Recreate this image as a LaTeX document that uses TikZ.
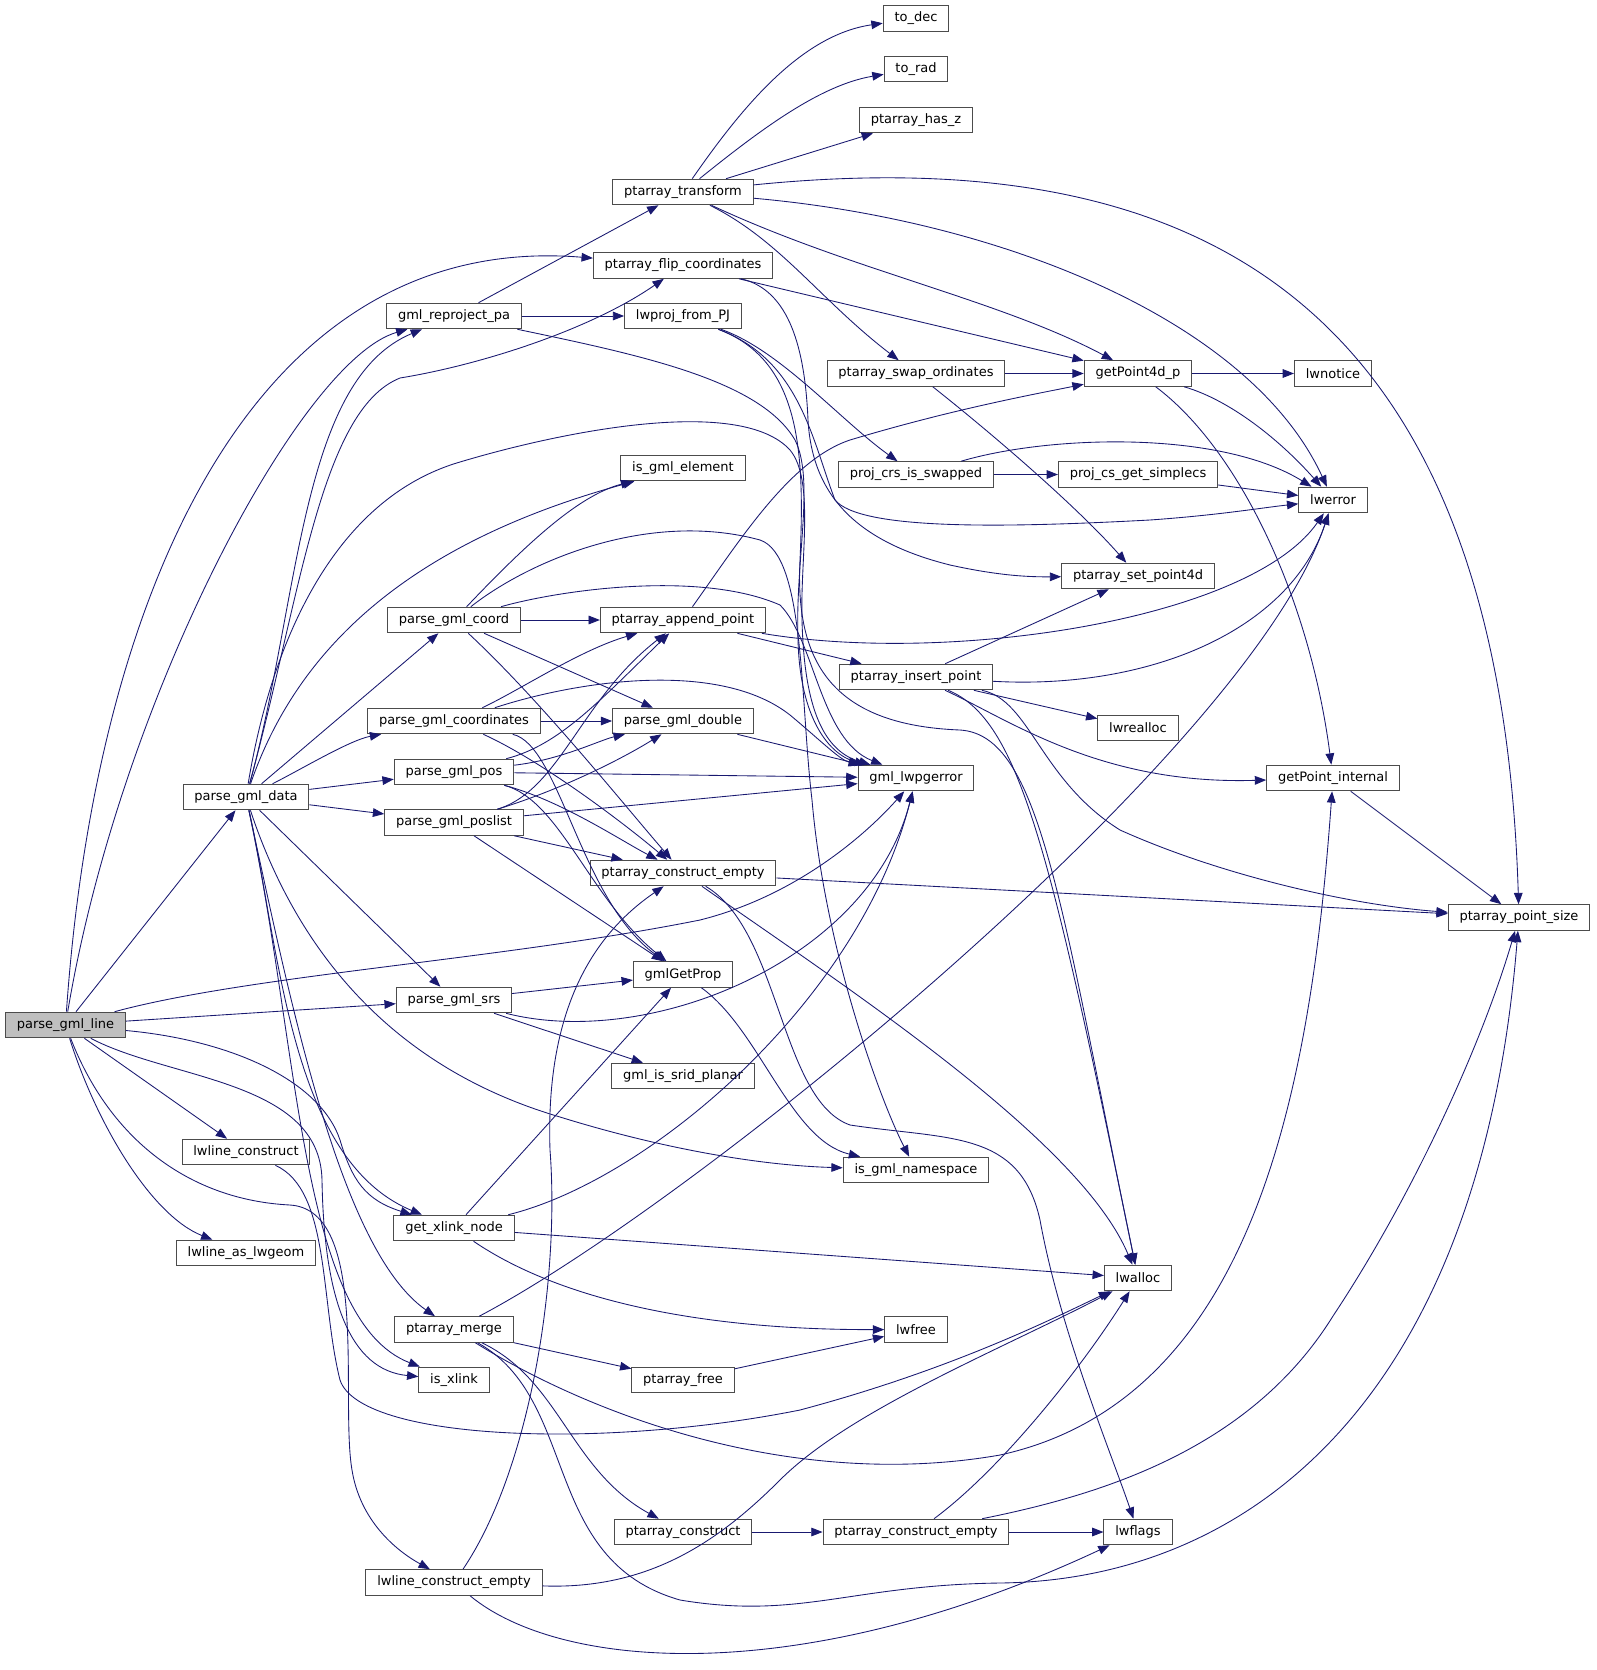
\documentclass[tikz,border=0pt]{standalone}
\usepackage{fontspec}
\setmainfont{DejaVu Sans}
\usetikzlibrary{arrows.meta}
\definecolor{callblue}{HTML}{191970}
\tikzset{
  fn/.style={draw=black!70, line width=0.75pt, fill=white, font=\fontsize{9.75}{11}\selectfont, inner xsep=8.5pt, inner ysep=0pt, minimum height=19.2pt},
  root/.style={fn, fill=black!25},
  call/.style={draw=callblue, line width=0.65pt, -{Triangle[length=8.5pt,width=6.5pt]}}
}

\begin{document}
\begin{tikzpicture}[x=0.75pt, y=-0.75pt]
	\useasboundingbox (0,0) rectangle (1596,1670);
	\node[fn] (todec) at (916,18.5) {to\_dec};
	\node[fn] (torad) at (916,69) {to\_rad};
	\node[fn] (hasz) at (916,120) {ptarray\_has\_z};
	\node[fn] (transform) at (683,192) {ptarray\_transform};
	\node[fn] (flip) at (683,265.5) {ptarray\_flip\_coordinates};
	\node[fn] (reproj) at (454,316) {gml\_reproject\_pa};
	\node[fn] (fromPJ) at (683,316) {lwproj\_from\_PJ};
	\node[fn] (swap) at (916,373.5) {ptarray\_swap\_ordinates};
	\node[fn] (getpt) at (1138,373.5) {getPoint4d\_p};
	\node[fn] (notice) at (1333,373.5) {lwnotice};
	\node[fn] (iselem) at (683,468) {is\_gml\_element};
	\node[fn] (crsswap) at (916,474.5) {proj\_crs\_is\_swapped};
	\node[fn] (simplecs) at (1138,474.5) {proj\_cs\_get\_simplecs};
	\node[fn] (lwerr) at (1333,500) {lwerror};
	\node[fn] (setpt) at (1138,576) {ptarray\_set\_point4d};
	\node[fn] (coord) at (454,620) {parse\_gml\_coord};
	\node[fn] (append) at (683,620) {ptarray\_append\_point};
	\node[fn] (insert) at (916,677) {ptarray\_insert\_point};
	\node[fn] (realloc) at (1138,728) {lwrealloc};
	\node[fn] (coords) at (454,721) {parse\_gml\_coordinates};
	\node[fn] (dbl) at (683,721) {parse\_gml\_double};
	\node[fn] (pos) at (454,772) {parse\_gml\_pos};
	\node[fn] (gmlerr) at (916,778) {gml\_lwpgerror};
	\node[fn] (getint) at (1333,778) {getPoint\_internal};
	\node[fn] (data) at (246,797) {parse\_gml\_data};
	\node[fn] (poslist) at (454,822.5) {parse\_gml\_poslist};
	\node[fn] (cempty) at (683,873) {ptarray\_construct\_empty};
	\node[fn] (ptsize) at (1519,917.5) {ptarray\_point\_size};
	\node[fn] (getprop) at (683,974.5) {gmlGetProp};
	\node[fn] (srs) at (454,1000) {parse\_gml\_srs};
	\node[root] (line) at (65.5,1025) {parse\_gml\_line};
	\node[fn] (planar) at (683,1076) {gml\_is\_srid\_planar};
	\node[fn] (lconstr) at (246,1152) {lwline\_construct};
	\node[fn] (nspace) at (916,1170) {is\_gml\_namespace};
	\node[fn] (xlnode) at (454,1228) {get\_xlink\_node};
	\node[fn] (aslwgeom) at (246,1253) {lwline\_as\_lwgeom};
	\node[fn] (lwalloc) at (1138,1278) {lwalloc};
	\node[fn] (merge) at (454,1329.5) {ptarray\_merge};
	\node[fn] (lwfree) at (916,1329.5) {lwfree};
	\node[fn] (pfree) at (683,1380) {ptarray\_free};
	\node[fn] (isxlink) at (454,1380) {is\_xlink};
	\node[fn] (pconstr) at (683,1532) {ptarray\_construct};
	\node[fn] (cempty2) at (916,1532) {ptarray\_construct\_empty};
	\node[fn] (lwflags) at (1138,1532) {lwflags};
	\node[fn] (lempty) at (454,1582.5) {lwline\_construct\_empty};

	\draw[call] (line) .. controls (95,600) and (250,230) .. (flip);
	\draw[call] (line) .. controls (120,700) and (300,360) .. (reproj);
	\draw[call] (line) -- (data);
	\draw[call] (line) .. controls (250,975) and (500,960) .. (700,920) .. controls (800,895) and (870,830) .. (gmlerr);
	\draw[call] (line) -- (srs);
	\draw[call] (line) .. controls (230,1040) and (320,1080) .. (340,1140) .. controls (352,1180) and (365,1200) .. (xlnode);
	\draw[call] (line) .. controls (170,1080) and (320,1080) .. (322,1180) .. controls (324,1300) and (350,1370) .. (isxlink);
	\draw[call] (line) -- (lconstr);
	\draw[call] (line) .. controls (95,1120) and (150,1215) .. (aslwgeom);
	\draw[call] (line) .. controls (110,1140) and (190,1200) .. (290,1205) .. controls (370,1210) and (340,1400) .. (352,1470) .. controls (360,1520) and (395,1550) .. (lempty);

	\draw[call] (data) .. controls (300,600) and (300,380) .. (reproj);
	\draw[call] (data) .. controls (300,600) and (320,410) .. (400,378) .. controls (480,365) and (590,330) .. (flip);
	\draw[call] (data) .. controls (270,650) and (330,500) .. (460,462) .. controls (560,432) and (740,395) .. (790,450) .. controls (815,480) and (800,560) .. (802,620) .. controls (804,700) and (820,750) .. (gmlerr);
	\draw[call] (data) .. controls (300,640) and (420,540) .. (iselem);
	\draw[call] (data) -- (coord);
	\draw[call] (data) .. controls (300,770) and (350,740) .. (coords);
	\draw[call] (data) -- (pos);
	\draw[call] (data) -- (poslist);
	\draw[call] (data) -- (srs);
	\draw[call] (data) .. controls (300,960) and (400,1070) .. (560,1117) .. controls (650,1145) and (750,1165) .. (nspace);
	\draw[call] (data) .. controls (280,950) and (290,1160) .. (xlnode);
	\draw[call] (data) .. controls (300,1050) and (300,1320) .. (isxlink);
	\draw[call] (data) .. controls (290,1000) and (340,1250) .. (merge);

	\draw[call] (reproj) -- (fromPJ);
	\draw[call] (reproj) -- (transform);
	\draw[call] (reproj) .. controls (640,355) and (760,380) .. (795,440) .. controls (815,480) and (795,560) .. (798,640) .. controls (800,720) and (830,755) .. (gmlerr);

	\draw[call] (fromPJ) .. controls (780,350) and (840,420) .. (crsswap);
	\draw[call] (fromPJ) .. controls (800,360) and (812,440) .. (835,500) .. controls (860,530) and (1000,528) .. (1150,520) .. controls (1220,515) and (1260,508) .. (lwerr);
	\draw[call] (fromPJ) .. controls (800,360) and (805,450) .. (800,560) .. controls (795,660) and (830,725) .. (960,730) .. controls (1040,735) and (1060,900) .. (lwalloc);

	\draw[call] (transform) .. controls (740,110) and (800,35) .. (todec);
	\draw[call] (transform) .. controls (760,130) and (820,85) .. (torad);
	\draw[call] (transform) -- (hasz);
	\draw[call] (transform) .. controls (1200,140) and (1500,300) .. (ptsize);
	\draw[call] (transform) .. controls (1000,220) and (1250,320) .. (lwerr);
	\draw[call] (transform) .. controls (850,270) and (1000,300) .. (getpt);
	\draw[call] (transform) .. controls (780,240) and (820,300) .. (swap);

	\draw[call] (flip) -- (getpt);
	\draw[call] (flip) .. controls (790,290) and (805,350) .. (808,420) .. controls (812,490) and (850,540) .. (950,565) .. controls (1000,576) and (1030,577) .. (setpt);
	\draw[call] (swap) -- (getpt);
	\draw[call] (swap) .. controls (1000,440) and (1080,510) .. (setpt);
	\draw[call] (getpt) -- (notice);
	\draw[call] (getpt) .. controls (1230,400) and (1280,440) .. (lwerr);
	\draw[call] (getpt) .. controls (1240,450) and (1310,600) .. (getint);
	\draw[call] (crsswap) -- (simplecs);
	\draw[call] (crsswap) .. controls (1050,435) and (1220,430) .. (lwerr);
	\draw[call] (simplecs) -- (lwerr);

	\draw[call] (coord) -- (append);
	\draw[call] (coord) .. controls (530,540) and (580,495) .. (iselem);
	\draw[call] (coord) .. controls (560,590) and (700,570) .. (780,605) .. controls (815,640) and (820,740) .. (gmlerr);
	\draw[call] (coord) .. controls (530,560) and (650,510) .. (760,540) .. controls (805,555) and (800,700) .. (812,800) .. controls (825,950) and (880,1100) .. (nspace);
	\draw[call] (coord) -- (dbl);
	\draw[call] (coord) .. controls (540,700) and (620,800) .. (cempty);

	\draw[call] (coords) .. controls (520,690) and (580,650) .. (append);
	\draw[call] (coords) -- (dbl);
	\draw[call] (coords) .. controls (580,680) and (720,660) .. (790,715) .. controls (820,740) and (840,760) .. (gmlerr);
	\draw[call] (coords) .. controls (540,760) and (620,820) .. (cempty);
	\draw[call] (coords) .. controls (560,745) and (580,900) .. (getprop);

	\draw[call] (pos) .. controls (560,745) and (600,700) .. (append);
	\draw[call] (pos) .. controls (560,760) and (600,740) .. (dbl);
	\draw[call] (pos) -- (gmlerr);
	\draw[call] (pos) .. controls (560,800) and (620,840) .. (cempty);
	\draw[call] (pos) .. controls (560,800) and (590,900) .. (getprop);

	\draw[call] (poslist) .. controls (560,790) and (580,700) .. (append);
	\draw[call] (poslist) .. controls (560,790) and (620,760) .. (dbl);
	\draw[call] (poslist) -- (gmlerr);
	\draw[call] (poslist) -- (cempty);
	\draw[call] (poslist) -- (getprop);

	\draw[call] (srs) -- (getprop);
	\draw[call] (srs) .. controls (650,1050) and (870,960) .. (gmlerr);
	\draw[call] (srs) -- (planar);
	\draw[call] (dbl) -- (gmlerr);
	\draw[call] (getprop) .. controls (760,1030) and (790,1140) .. (nspace);

	\draw[call] (append) -- (insert);
	\draw[call] (append) .. controls (740,540) and (790,460) .. (850,440) .. controls (950,410) and (1030,395) .. (getpt);
	\draw[call] (append) .. controls (950,665) and (1250,620) .. (lwerr);
	\draw[call] (insert) -- (setpt);
	\draw[call] (insert) .. controls (1150,690) and (1290,630) .. (lwerr);
	\draw[call] (insert) -- (realloc);
	\draw[call] (insert) .. controls (1010,720) and (1100,785) .. (getint);
	\draw[call] (insert) .. controls (1030,700) and (1040,780) .. (1120,830) .. controls (1220,875) and (1350,905) .. (ptsize);
	\draw[call] (insert) .. controls (1020,720) and (1050,850) .. (lwalloc);
	\draw[call] (getint) -- (ptsize);

	\draw[call] (xlnode) -- (getprop);
	\draw[call] (xlnode) .. controls (650,1180) and (860,1000) .. (gmlerr);
	\draw[call] (xlnode) -- (lwalloc);
	\draw[call] (xlnode) .. controls (560,1300) and (700,1330) .. (lwfree);

	\draw[call] (merge) .. controls (700,1200) and (1250,750) .. (lwerr);
	\draw[call] (merge) -- (pfree);
	\draw[call] (merge) .. controls (560,1380) and (570,1470) .. (pconstr);
	\draw[call] (merge) .. controls (600,1420) and (800,1490) .. (1000,1455) .. controls (1250,1400) and (1310,1100) .. (getint);
	\draw[call] (merge) .. controls (580,1400) and (540,1560) .. (680,1600) .. controls (800,1620) and (850,1585) .. (1000,1583) .. controls (1250,1580) and (1480,1400) .. (ptsize);

	\draw[call] (lconstr) .. controls (330,1190) and (320,1300) .. (340,1380) .. controls (360,1440) and (600,1450) .. (800,1410) .. controls (950,1370) and (1050,1320) .. (lwalloc);
	\draw[call] (lempty) .. controls (530,1470) and (560,1280) .. (550,1150) .. controls (545,1000) and (600,930) .. (cempty);
	\draw[call] (lempty) .. controls (650,1590) and (720,1540) .. (780,1480) .. controls (850,1410) and (1000,1350) .. (lwalloc);
	\draw[call] (lempty) .. controls (560,1670) and (800,1690) .. (lwflags);

	\draw[call] (pconstr) -- (cempty2);
	\draw[call] (cempty2) -- (lwflags);
	\draw[call] (cempty2) .. controls (1000,1470) and (1080,1370) .. (lwalloc);
	\draw[call] (cempty2) .. controls (1100,1495) and (1250,1450) .. (1333,1316) .. controls (1410,1200) and (1480,1050) .. (ptsize);
	\draw[call] (cempty) -- (ptsize);
	\draw[call] (cempty) .. controls (850,990) and (1080,1140) .. (lwalloc);
	\draw[call] (cempty) .. controls (780,930) and (780,1100) .. (850,1125) .. controls (950,1140) and (1020,1130) .. (1040,1220) .. controls (1060,1330) and (1110,1450) .. (lwflags);
	\draw[call] (pfree) -- (lwfree);
\end{tikzpicture}
\end{document}
